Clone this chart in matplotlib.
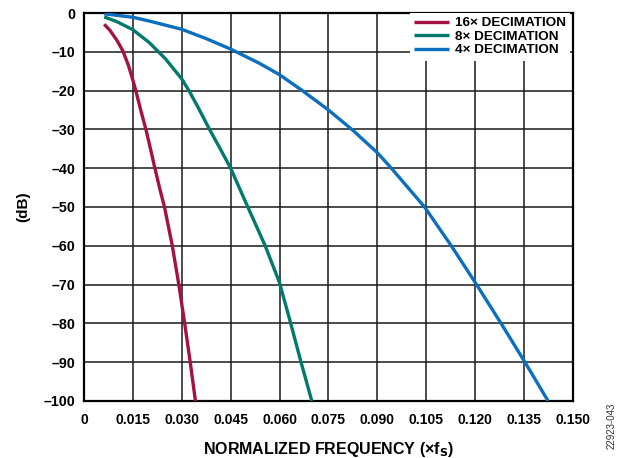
import matplotlib
matplotlib.use("Agg")
import matplotlib.pyplot as plt

# values
x_16 = [0.0062, 0.0080, 0.0100, 0.0119, 0.0136, 0.0149, 0.0159, 0.0174, 0.0190,
        0.0204, 0.0217, 0.0232, 0.0247, 0.0271, 0.0291, 0.0309, 0.0326, 0.0342]
y_16 = [-2.9, -4.5, -6.9, -9.7, -13.4, -17.0, -20, -25, -30,
        -35, -39.8, -45.1, -50, -60, -70, -80, -90, -100]

x_8 = [0.0062, 0.0100, 0.0150, 0.0200, 0.0250, 0.0300, 0.0322, 0.0350, 0.0384,
       0.0418, 0.0450, 0.0500, 0.0556, 0.0600, 0.0633, 0.0666, 0.0699]
y_8 = [-1.0, -2.2, -4.3, -7.6, -11.8, -17.0, -20, -24.3, -29.8,
       -35.0, -40, -49.5, -60, -69.5, -79.6, -90, -100]

x_4 = [0.0062, 0.0150, 0.0202, 0.0300, 0.0375, 0.0450, 0.0539, 0.0600, 0.0670,
       0.0750, 0.0826, 0.0900, 0.0943, 0.1045, 0.1127, 0.1203, 0.1282, 0.1353, 0.1424]
y_4 = [-0.2, -1.1, -2.1, -4.2, -6.6, -9.3, -13.0, -15.9, -20,
       -25, -30.3, -36.0, -40, -50, -60, -69.8, -80.3, -90, -100]

labels = ["16× DECIMATION", "8× DECIMATION", "4× DECIMATION"]
colors = ["#A4133F", "#007A6C", "#0B6FBF"]

x_ticks = [0, 0.015, 0.030, 0.045, 0.060, 0.075, 0.090, 0.105, 0.120, 0.135, 0.150]
x_ticklabels = ["0", "0.015", "0.030", "0.045", "0.060", "0.075", "0.090",
                "0.105", "0.120", "0.135", "0.150"]
y_ticks = list(range(0, -101, -10))
y_ticklabels = ["0"] + ["\u2013%d" % (-v) for v in y_ticks[1:]]

plt.rcParams["font.family"] = ["Liberation Sans", "DejaVu Sans"]
plt.rcParams["font.weight"] = "bold"

fig = plt.figure(figsize=(6.22, 4.58), dpi=100)
ax = fig.add_axes([0.135, 0.1245, 0.786, 0.8471])

for xs, ys, lab, c in zip([x_16, x_8, x_4], [y_16, y_8, y_4], labels, colors):
    ax.plot(xs, ys, color=c, lw=2.4, label=lab, solid_capstyle="butt",
            solid_joinstyle="round", zorder=3)

ax.set_xlim(0, 0.150)
ax.set_ylim(-100, 0)
ax.set_xticks(x_ticks)
ax.set_xticklabels(x_ticklabels, fontsize=10, fontweight="bold")
ax.set_yticks(y_ticks)
ax.set_yticklabels(y_ticklabels, fontsize=10.3, fontweight="bold")
ax.tick_params(length=0)
ax.tick_params(axis="x", pad=9)
ax.tick_params(axis="y", pad=6)
ax.grid(True, color="#1a1a1a", lw=1.1)
ax.set_axisbelow(True)
for s in ax.spines.values():
    s.set_linewidth(1.6)
    s.set_color("black")

ax.set_xlabel("NORMALIZED FREQUENCY (×f$_\\mathbf{S}$)", fontsize=11.5,
              fontweight="bold", labelpad=9)
ax.set_ylabel("(dB)", fontsize=11, fontweight="bold", labelpad=10)

leg = ax.legend(loc="upper right", bbox_to_anchor=(0.995, 1.0), fontsize=9.7,
                frameon=True, fancybox=False, handlelength=2.6,
                handletextpad=0.5, labelspacing=0.08, borderpad=0.3,
                borderaxespad=0)
leg.get_frame().set_facecolor("white")
leg.get_frame().set_edgecolor("none")
leg.get_frame().set_alpha(1)
for t in leg.get_texts():
    t.set_fontweight("bold")

fig.text(0.983, 0.07, "22923-043", rotation=90, fontsize=7,
         fontweight="normal", color="#333333", ha="center", va="center")

fig.savefig("out.png", dpi=100)
